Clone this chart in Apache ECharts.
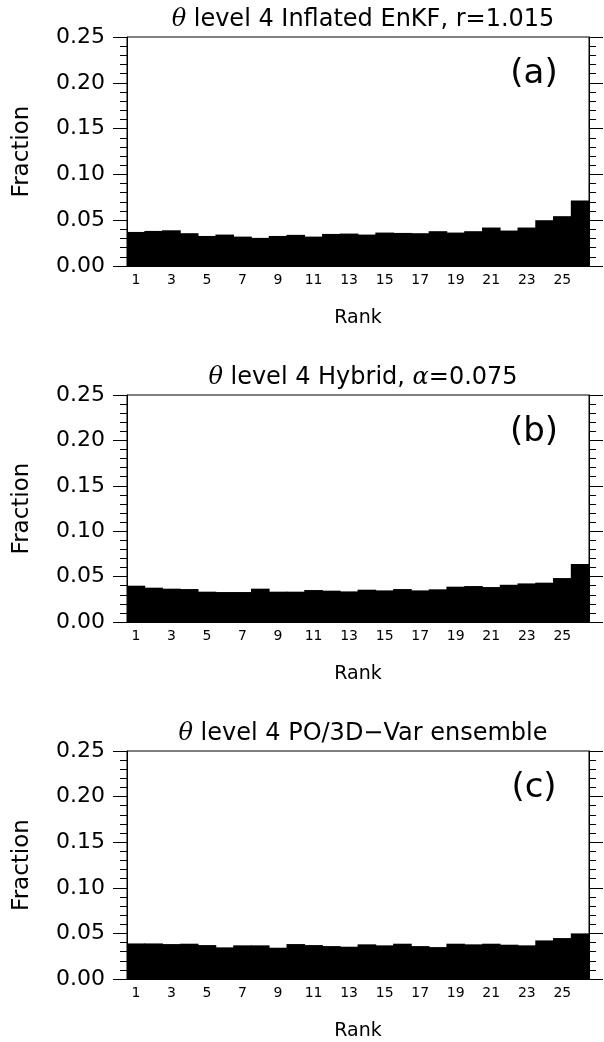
<!DOCTYPE html>
<html>
<head>
<meta charset="utf-8">
<script src="https://cdn.jsdelivr.net/npm/echarts@6/dist/echarts.min.js"></script>
<style>
html,body{margin:0;padding:0;background:#fff;}
#c{width:604px;height:1042px;}
</style>
</head>
<body>
<div id="c"></div>
<script>
const ranks = ['1','2','3','4','5','6','7','8','9','10','11','12','13','14','15','16','17','18','19','20','21','22','23','24','25','26'];
const fractionA = [0.0372,0.0383,0.0390,0.0358,0.0328,0.0343,0.0321,0.0307,0.0328,0.0340,0.0321,0.0350,0.0354,0.0343,0.0365,0.0361,0.0358,0.0380,0.0365,0.0380,0.0420,0.0387,0.0420,0.0500,0.0544,0.0715];
const fractionB = [0.0400,0.0378,0.0367,0.0363,0.0334,0.0330,0.0330,0.0367,0.0334,0.0334,0.0352,0.0345,0.0337,0.0356,0.0348,0.0363,0.0348,0.0360,0.0389,0.0396,0.0385,0.0410,0.0425,0.0433,0.0484,0.0638];
const fractionC = [0.0390,0.0390,0.0383,0.0387,0.0372,0.0347,0.0369,0.0369,0.0343,0.0383,0.0372,0.0361,0.0354,0.0380,0.0369,0.0387,0.0361,0.0350,0.0387,0.0380,0.0387,0.0376,0.0369,0.0423,0.0449,0.0500];
const yTicks = [0.00,0.05,0.10,0.15,0.20,0.25];
const panelTitles = [
  '{th|θ} level 4 Inflated EnKF, r=1.015',
  '{th|θ} level 4 Hybrid, {th|α}=0.075',
  '{th|θ} level 4 PO/3D\u2212Var ensemble'
];
const panelTags = ['(a)','(b)','(c)'];
const seriesData = [fractionA, fractionB, fractionC];

const FONT = 'DejaVu Sans';
const grids = [
  {left:127, top:37, width:462, height:229},
  {left:127, top:395, width:462, height:227},
  {left:127, top:751, width:462, height:228}
];

const chart = echarts.init(document.getElementById('c'), null, {renderer:'canvas'});

const xAxes = [], yAxes = [], series = [], titles = [], graphics = [];
grids.forEach((g, i) => {
  xAxes.push({
    type:'category', gridIndex:i, data:ranks, boundaryGap:true,
    axisLine:{show:true, lineStyle:{color:'#000', width:1}},
    axisTick:{show:false},
    axisLabel:{interval:1, color:'#000', fontFamily:FONT, fontSize:14, margin:7},
    name:'Rank', nameLocation:'middle', nameGap:43,
    nameTextStyle:{color:'#000', fontFamily:FONT, fontSize:19}
  });
  const yBase = {
    type:'value', gridIndex:i, min:yTicks[0], max:yTicks[yTicks.length-1], interval:0.05,
    splitLine:{show:false},
    axisLine:{show:true, lineStyle:{color:'#000', width:1}},
    axisTick:{show:true, inside:false, length:14, lineStyle:{color:'#000', width:1}},
    minorTick:{show:true, splitNumber:5, length:7, lineStyle:{color:'#000', width:1}}
  };
  yAxes.push(Object.assign({}, yBase, {
    position:'left',
    axisLabel:{color:'#000', fontFamily:FONT, fontSize:22, margin:22, formatter:v => v.toFixed(2)},
    name:'Fraction', nameLocation:'middle', nameGap:93,
    nameTextStyle:{color:'#000', fontFamily:FONT, fontSize:23}
  }));
  yAxes.push(Object.assign({}, yBase, {
    position:'right', axisLabel:{show:false}
  }));
  series.push({
    type:'bar', xAxisIndex:i, yAxisIndex:2*i, data:seriesData[i],
    barWidth:18.6, itemStyle:{color:'#000'},
    silent:true, animation:false
  });
  titles.push({
    text:panelTitles[i], left:358, top:g.top - 34, textAlign:'center',
    textStyle:{
      color:'#000', fontFamily:FONT, fontSize:24, fontWeight:'normal',
      rich:{th:{fontFamily:'DejaVu Serif', fontStyle:'italic', fontSize:24, color:'#000'}}
    }
  });
  graphics.push({
    type:'text', x:534, y:g.top + 37,
    style:{text:panelTags[i], fill:'#000', font:'34px "DejaVu Sans"', textAlign:'center', textVerticalAlign:'middle'}
  });
});

chart.setOption({
  animation:false,
  backgroundColor:'#fff',
  title:titles,
  grid:grids.map(g => Object.assign({}, g, {show:true, borderColor:'#000', borderWidth:1, backgroundColor:'transparent'})),
  xAxis:xAxes,
  yAxis:yAxes,
  series:series,
  graphic:graphics
});
</script>
</body>
</html>
